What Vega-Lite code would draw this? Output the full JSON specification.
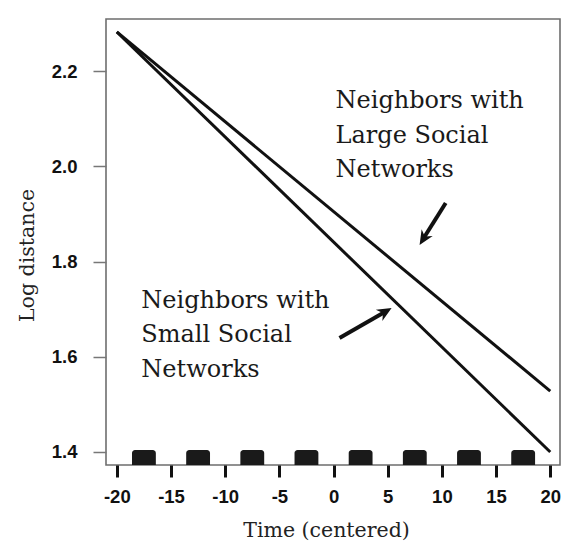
{
  "$schema": "https://vega.github.io/schema/vega-lite/v6.json",
  "autosize": "none",
  "width": 454,
  "height": 446,
  "padding": {"left": 106, "top": 19, "right": 1, "bottom": 78},
  "background": "white",
  "config": {
    "view": {"stroke": "#6e6e6e", "strokeWidth": 1.6},
    "axis": {"grid": false, "domain": false, "labelFont": "Liberation Sans", "labelFontWeight": "bold", "labelFontSize": 18.5, "labelColor": "#111", "titleFont": "DejaVu Serif", "titleFontWeight": "normal", "titleFontSize": 20.5, "titleColor": "#222"}
  },
  "datasets": {
    "fits": [
      {"time": -20, "logdist": 2.282, "group": "Large"},
      {"time": 20, "logdist": 1.528, "group": "Large"},
      {"time": -20, "logdist": 2.282, "group": "Small"},
      {"time": 20, "logdist": 1.4, "group": "Small"}
    ],
    "waves": [
      {"start": -18.6, "end": -16.4},
      {"start": -13.6, "end": -11.4},
      {"start": -8.6, "end": -6.4},
      {"start": -3.6, "end": -1.4},
      {"start": 1.4, "end": 3.6},
      {"start": 6.4, "end": 8.6},
      {"start": 11.4, "end": 13.6},
      {"start": 16.4, "end": 18.6}
    ]
  },
  "encoding": {
    "x": {"type": "quantitative", "scale": {"domain": [-21.0, 20.9], "nice": false, "zero": false}},
    "y": {"type": "quantitative", "scale": {"domain": [1.3727, 2.3092], "nice": false, "zero": false}}
  },
  "layer": [
    {
      "data": {"name": "waves"},
      "mark": {"type": "bar", "color": "#1a1a1a", "cornerRadiusTopLeft": 3, "cornerRadiusTopRight": 3},
      "encoding": {
        "x": {"field": "start", "type": "quantitative",
          "axis": {"title": "Time (centered)", "values": [-20, -15, -10, -5, 0, 5, 10, 15, 20], "labelExpr": "replace(datum.label, '−', '-')", "tickSize": 12, "tickWidth": 3, "tickColor": "#111", "labelPadding": 10, "titlePadding": 15, "labelFlush": false, "titleX": 220}},
        "x2": {"field": "end"},
        "y": {"datum": 1.404, "type": "quantitative",
          "axis": {"title": "Log distance", "values": [1.4, 1.6, 1.8, 2.0, 2.2], "format": ".1f", "tickSize": 13, "tickWidth": 1.5, "tickColor": "#777", "labelPadding": 16, "titlePadding": 14, "titleY": 236}},
        "y2": {"datum": 1.3727}
      }
    },
    {
      "data": {"name": "fits"},
      "mark": {"type": "line", "color": "#111", "strokeWidth": 3, "clip": true},
      "encoding": {
        "x": {"field": "time", "type": "quantitative"},
        "y": {"field": "logdist", "type": "quantitative"},
        "detail": {"field": "group"}
      }
    },
    {
      "data": {"values": [
        {"x": 10.35, "y": 1.9228, "x2": 8.37, "y2": 1.8508},
        {"x": 0.55, "y": 1.6394, "x2": 4.61, "y2": 1.6923}
      ]},
      "mark": {"type": "rule", "color": "#111", "strokeWidth": 4},
      "encoding": {
        "x": {"field": "x", "type": "quantitative"},
        "y": {"field": "y", "type": "quantitative"},
        "x2": {"field": "x2"},
        "y2": {"field": "y2"}
      }
    },
    {
      "data": {"values": [{"x": 7.94, "y": 1.8347}]},
      "mark": {"type": "point", "shape": "M0,0 L0.65,1.45 L0,1.0 L-0.65,1.45 Z", "filled": true, "color": "#111", "opacity": 1, "size": 400, "angle": 211.6},
      "encoding": {
        "x": {"field": "x", "type": "quantitative"},
        "y": {"field": "y", "type": "quantitative"}
      }
    },
    {
      "data": {"values": [{"x": 5.36, "y": 1.7024}]},
      "mark": {"type": "point", "shape": "M0,0 L0.65,1.45 L0,1.0 L-0.65,1.45 Z", "filled": true, "color": "#111", "opacity": 1, "size": 400, "angle": 59.9},
      "encoding": {
        "x": {"field": "x", "type": "quantitative"},
        "y": {"field": "y", "type": "quantitative"}
      }
    },
    {
      "data": {"values": [
        {"x": 0.185, "y": 2.1223, "label": "Neighbors with\nLarge Social\nNetworks"},
        {"x": -17.74, "y": 1.7024, "label": "Neighbors with\nSmall Social\nNetworks"}
      ]},
      "mark": {"type": "text", "font": "DejaVu Serif", "fontSize": 24, "color": "#1a1a1a", "align": "left", "baseline": "alphabetic", "lineBreak": "\n", "lineHeight": 34.5},
      "encoding": {
        "x": {"field": "x", "type": "quantitative"},
        "y": {"field": "y", "type": "quantitative"},
        "text": {"field": "label"}
      }
    }
  ]
}
